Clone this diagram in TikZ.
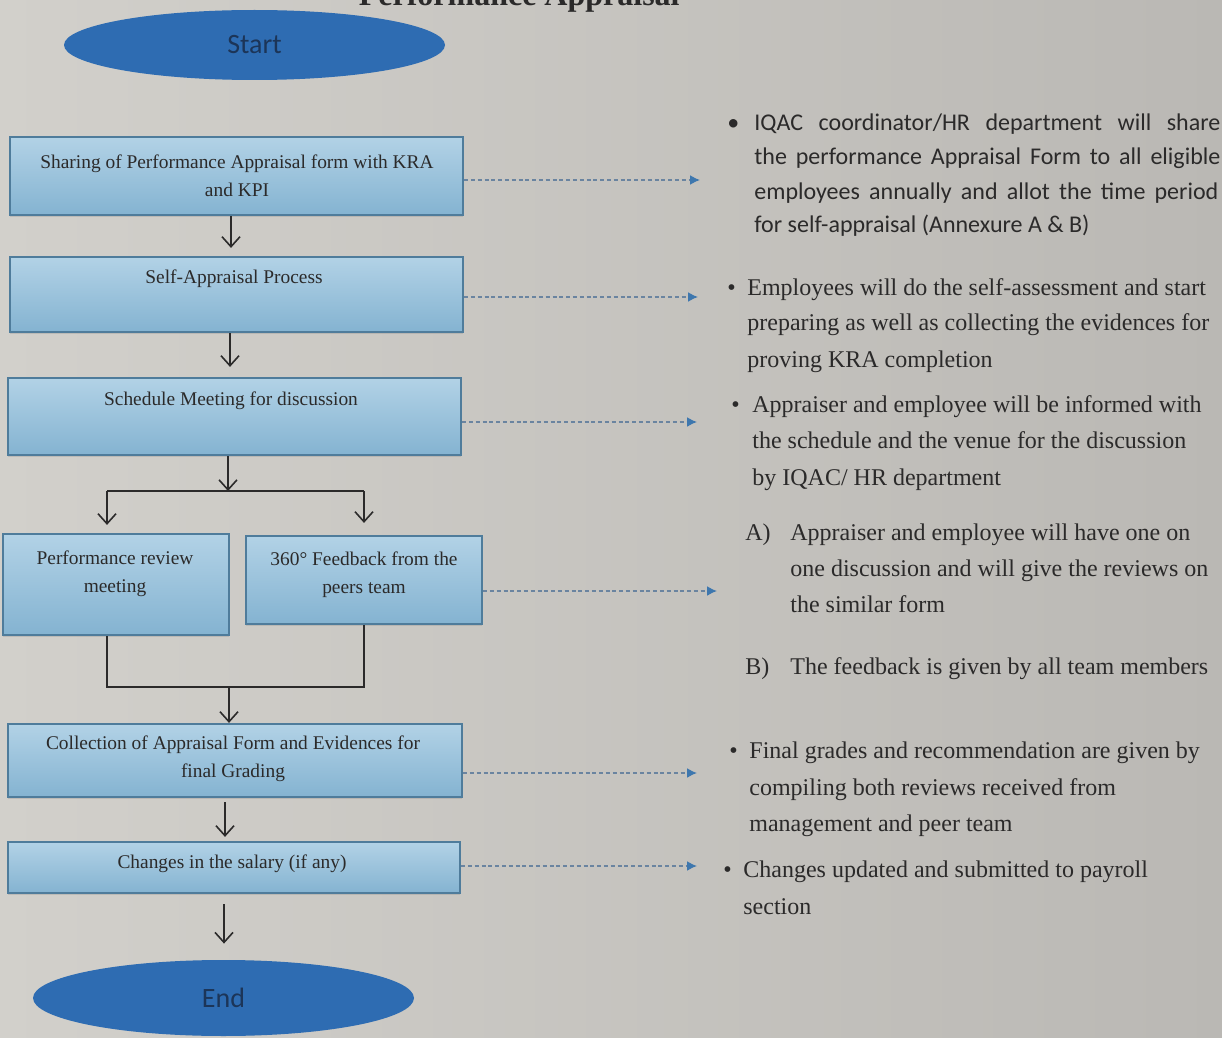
\documentclass[tikz,border=0pt]{standalone}
\usepackage{fontspec}
\setmainfont{Liberation Serif}
\newfontfamily\calib{Carlito}
\usetikzlibrary{shapes.geometric,arrows.meta,shadows}

\definecolor{bgA}{HTML}{D2D0CB}
\definecolor{bgB}{HTML}{BAB8B4}
\definecolor{boxTop}{HTML}{B2D2E6}
\definecolor{boxBot}{HTML}{84B3D1}
\definecolor{boxLine}{HTML}{4F7C9B}
\definecolor{ellFill}{HTML}{2E6CB2}
\definecolor{ellText}{HTML}{1C3558}
\definecolor{txt}{HTML}{2B2A2A}
\definecolor{dashC}{HTML}{6A84A0}
\definecolor{tipC}{HTML}{3E77AE}

\tikzset{
  procbox/.style={draw=boxLine, line width=1.1pt, top color=boxTop, bottom color=boxBot,
    inner sep=0pt, drop shadow={opacity=0.25, shadow xshift=0pt, shadow yshift=-1.2pt}},
  ovalnode/.style={ellipse, fill=ellFill, inner sep=0pt, text=ellText,
    font=\calib\fontsize{14}{16}\selectfont},
  flow/.style={draw=txt, line width=0.8pt, -{Straight Barb[length=5pt,width=9pt,line width=0.8pt]}},
  plainline/.style={draw=txt, line width=0.8pt},
  notearrow/.style={draw=dashC, line width=0.8pt, dash pattern=on 2pt off 1.4pt,
    -{Latex[length=5pt,width=5pt,color=tipC]}},
  boxtext/.style={font=\fontsize{9.7}{14}\selectfont, text=txt, align=center, inner sep=0pt},
  rtext/.style={anchor=base west, inner sep=0pt, text=txt, font=\fontsize{12}{14}\selectfont},
  ctext/.style={anchor=base west, inner sep=0pt, text=txt, font=\calib\fontsize{12}{14}\selectfont},
}

\begin{document}
\begin{tikzpicture}[x=0.5pt,y=-0.5pt]
\useasboundingbox (0,0) rectangle (1222,1038);
\fill[left color=bgA, right color=bgB] (0,0) rectangle (1222,1038);

% cut-off title
\node[anchor=base east, inner sep=0pt, text=txt, font=\bfseries\fontsize{16}{18}\selectfont] (title) at (680,6) {Performance Appraisal};

% ellipses
\node[ovalnode, minimum width=190.5pt, minimum height=35pt] (start) at (254.5,45) {Start};
\node[ovalnode, minimum width=190.5pt, minimum height=38pt] (end) at (223.5,998) {End};

% boxes
\node[procbox, minimum width=226.5pt, minimum height=39pt] (b1) at (236.5,176) {};
\node[procbox, minimum width=226.5pt, minimum height=37.5pt] (b2) at (236.5,294.5) {};
\node[procbox, minimum width=226.5pt, minimum height=38.5pt] (b3) at (234.5,416.5) {};
\node[procbox, minimum width=113pt, minimum height=50.5pt] (b4a) at (116,584.5) {};
\node[procbox, minimum width=118pt, minimum height=44pt] (b4b) at (364,580) {};
\node[procbox, minimum width=227pt, minimum height=36.5pt] (b5) at (235,760.5) {};
\node[procbox, minimum width=226pt, minimum height=25.5pt] (b6) at (234,867.5) {};

% box texts
\node[boxtext] (t1) at (237,176) {Sharing of Performance Appraisal form with KRA\\and KPI};
\node[boxtext] (t2) at (234,279) {Self-Appraisal Process};
\node[boxtext] (t3) at (231,401) {Schedule Meeting for discussion};
\node[boxtext] (t4a) at (115,574) {Performance review\\meeting};
\node[boxtext] (t4b) at (364,575) {360° Feedback from the\\peers team};
\node[boxtext] (t5) at (233,759) {Collection of Appraisal Form and Evidences for\\final Grading};
\node[boxtext] (t6) at (232,864) {Changes in the salary (if any)};

% vertical flow
\draw[flow, shorten >=4pt] (b1.south -| 231,0) -- (b2.north -| 231,0);
\draw[flow, shorten >=5pt] (b2.south -| 230,0) -- (b3.north -| 230,0);

\coordinate (jm) at (228,491);
\coordinate (jl) at (107,491);
\coordinate (jr) at (364,491);
\draw[flow] (b3.south -| jm) -- (jm);
\draw[plainline] (jl) -- (jr);
\draw[flow, shorten >=4pt] (jl) -- (jl |- b4a.north);
\draw[flow, shorten >=6pt] (jr) -- (jr |- b4b.north);

\coordinate (kl) at (107,687);
\coordinate (kr) at (364,687);
\coordinate (km) at (229,687);
\draw[plainline] (b4a.south -| kl) -- (kl) -- (kr) -- (b4b.south -| kr);
\draw[flow] (km) -- (km |- b5.north);

\draw[flow, shorten <=2pt, shorten >=2pt] (b5.south -| 225,0) -- (b6.north -| 225,0);
\draw[flow, shorten <=5pt, shorten >=8pt] (b6.south -| 224,0) -- (end.north -| 224,0);

% dashed pointers
\coordinate (n1) at (700,180);
\coordinate (n2) at (698,297);
\coordinate (n3) at (697,422);
\coordinate (n4) at (717,591);
\coordinate (n5) at (697,773);
\coordinate (n6) at (697,866);
\draw[notearrow] (b1.east |- n1) -- (n1);
\draw[notearrow] (b2.east |- n2) -- (n2);
\draw[notearrow] (b3.east |- n3) -- (n3);
\draw[notearrow] (b4b.east |- n4) -- (n4);
\draw[notearrow] (b5.east |- n5) -- (n5);
\draw[notearrow] (b6.east |- n6) -- (n6);

% right-hand notes
\node[ctext] (d1) at (727,131) {•};
\node[ctext] (p1a) at (754,131) {\makebox[233pt][s]{IQAC coordinator/HR department will share}};
\node[ctext] (p1b) at (754,165) {\makebox[233pt][s]{the performance Appraisal Form to all eligible}};
\node[ctext] (p1c) at (754,199) {\makebox[232pt][s]{employees annually and allot the time period}};
\node[ctext] (p1d) at (754,233) {for self-appraisal (Annexure A \& B)};

\node[rtext] (d2) at (727,295) {•};
\node[rtext] (p2a) at (747,295) {Employees will do the self-assessment and start};
\node[rtext] (p2b) at (747,330) {preparing as well as collecting the evidences for};
\node[rtext] (p2c) at (747,367) {proving KRA completion};

\node[rtext] (d3) at (731,412) {•};
\node[rtext] (p3a) at (752,412) {Appraiser and employee will be informed with};
\node[rtext] (p3b) at (752,448) {the schedule and the venue for the discussion};
\node[rtext] (p3c) at (752,485) {by IQAC/ HR department};

\node[rtext] (la) at (745,540) {A)};
\node[rtext] (pAa) at (790,540) {Appraiser and employee will have one on};
\node[rtext] (pAb) at (790,576) {one discussion and will give the reviews on};
\node[rtext] (pAc) at (790,612) {the similar form};

\node[rtext] (lb) at (745,674) {B)};
\node[rtext] (pB) at (790,674) {The feedback is given by all team members};

\node[rtext] (d5) at (729,758) {•};
\node[rtext] (p5a) at (749,758) {Final grades and recommendation are given by};
\node[rtext] (p5b) at (749,795) {compiling both reviews received from};
\node[rtext] (p5c) at (749,831) {management and peer team};

\node[rtext] (d6) at (723,877) {•};
\node[rtext] (p6a) at (743,877) {Changes updated and submitted to payroll};
\node[rtext] (p6b) at (743,914) {section};
\end{tikzpicture}
\end{document}
